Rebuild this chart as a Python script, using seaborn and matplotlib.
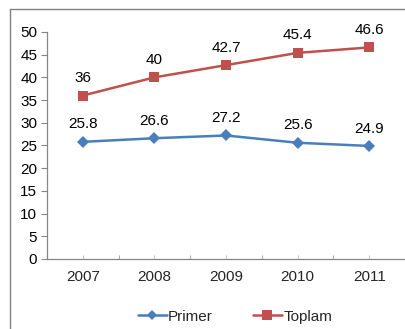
import matplotlib
matplotlib.use("Agg")
import matplotlib.pyplot as plt
from matplotlib.lines import Line2D
import seaborn as sns
import pandas as pd
import numpy as np

years = ["2007", "2008", "2009", "2010", "2011"]
primer = [25.8, 26.6, 27.2, 25.6, 24.9]
toplam = [36, 40, 42.7, 45.4, 46.6]
series_names = ["Primer", "Toplam"]

sns.set_style("white")
plt.rcParams['font.family'] = ['Liberation Sans', 'DejaVu Sans']

df = pd.DataFrame({
    "pos": list(range(len(years))) * 2,
    "value": primer + toplam,
    "series": [series_names[0]] * len(years) + [series_names[1]] * len(years),
})

colors = {"Primer": "#4A7EBB", "Toplam": "#C0504D"}
markers = {"Primer": "D", "Toplam": "s"}

fig = plt.figure(figsize=(4.05, 3.29), dpi=100)
ax = fig.add_axes([0.116, 0.2128, 0.884, 0.690])

sns.lineplot(data=df, x="pos", y="value", hue="series", style="series",
             markers=markers, dashes=False, palette=colors, ax=ax,
             linewidth=1.8, markersize=6.5, markeredgewidth=0, legend=False)

for vals, name in zip([primer, toplam], series_names):
    for i, v in enumerate(vals):
        ax.annotate(f"{v:g}", (i, v), xytext=(0, 7.5), textcoords="offset points",
                    ha="center", va="bottom", fontsize=11, color="black")

ax.set_xlim(-0.5, 4.44)
ax.set_ylim(0, 50)
ax.set_yticks(np.arange(0, 51, 5))
ax.set_xticks(range(len(years)))
ax.set_xticklabels(years)
ax.set_xticks(np.arange(-0.5, 4.6, 1), minor=True)
ax.set_xlabel("")
ax.set_ylabel("")
ax.tick_params(axis="y", labelsize=11, length=4, width=0.8, color="#868686",
               direction="out", left=True, pad=3, labelcolor="black")
ax.tick_params(axis="x", which="major", labelsize=11, length=3, width=0.6,
               color="#BBBBBB", direction="in", bottom=True, pad=8)
ax.tick_params(axis="x", which="minor", length=3, width=0.6,
               color="#999999", direction="in", bottom=True)
for s in ["top", "right"]:
    ax.spines[s].set_visible(False)
for s in ["left", "bottom"]:
    ax.spines[s].set_color("#868686")
    ax.spines[s].set_linewidth(0.9)

handles = [Line2D([], [], color=colors[n], marker=markers[n], linewidth=1.8,
                  markersize=6.5 if n == "Toplam" else 5.5, markeredgewidth=0)
           for n in series_names]
fig.legend(handles, series_names, loc="center", bbox_to_anchor=(0.58, 0.037),
           ncol=2, frameon=False, fontsize=11, handlelength=1.9,
           handletextpad=0.1, columnspacing=2.6)

# partial outer border (top and left visible in crop)
fig.add_artist(Line2D([10 / 405, 1.0], [1 - 9 / 329, 1 - 9 / 329],
                      transform=fig.transFigure, color="#808080", linewidth=1))
fig.add_artist(Line2D([10 / 405, 10 / 405], [0, 1 - 9 / 329],
                      transform=fig.transFigure, color="#808080", linewidth=1))

fig.savefig("out.png", dpi=100)
